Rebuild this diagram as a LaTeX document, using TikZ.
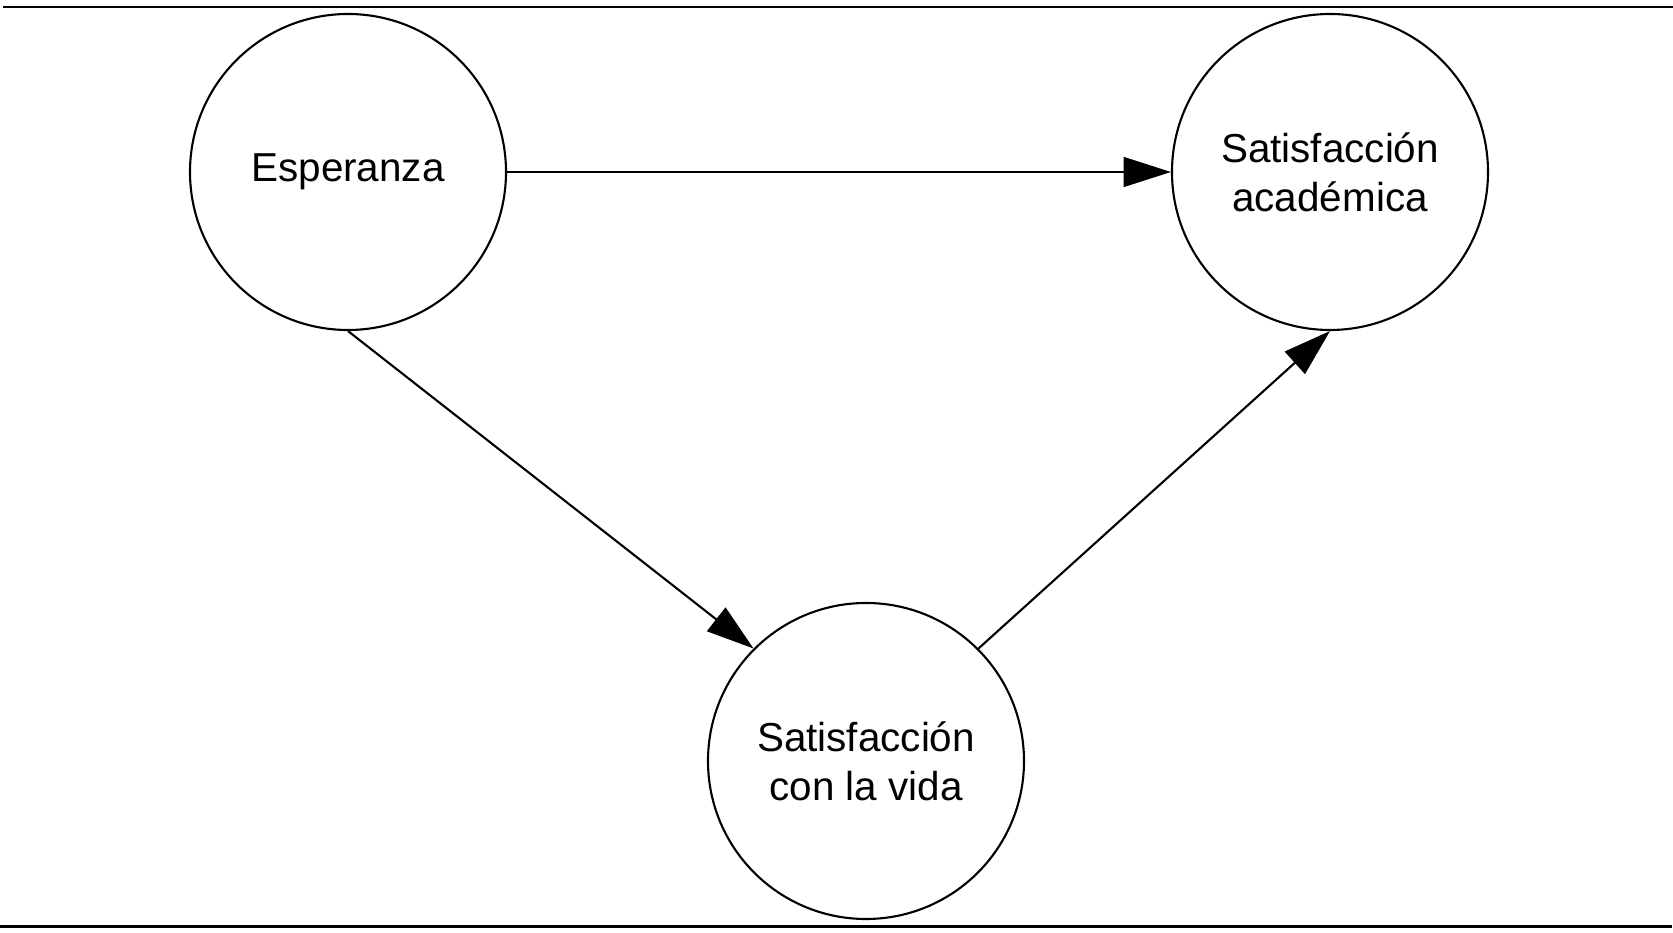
\documentclass[tikz,border=0pt]{standalone}
\usepackage{fontspec}
\setmainfont{Liberation Sans}
\usetikzlibrary{arrows.meta}

\begin{document}
\begin{tikzpicture}[>={Triangle[length=13.5pt,width=8.5pt]}, line width=0.6pt,
    var/.style={circle, draw, minimum size=3.16cm, inner sep=0pt, align=center,
      font=\fontsize{11.5}{13.9}\selectfont}]
  \useasboundingbox (0,0) rectangle (16.73,-9.33);

  % líneas de la tabla
  \draw[line width=0.5pt] (0.03,-0.07) -- (16.73,-0.07);
  \draw[line width=0.9pt] (0,-9.265) -- (16.72,-9.265);

  % variables
  \node[var] (esp) at (3.48,-1.72) {Esperanza};
  \node[var] (acad) at (13.30,-1.72) {Satisfacción\\académica};
  \node[var] (vida) at (8.66,-7.61) {Satisfacción\\con la vida};

  % relaciones
  \draw[->] (esp.east) -- (acad.west);
  \draw[->] (esp.south) -- (vida.north west);
  \draw[->] (vida.north east) -- (acad.south);
\end{tikzpicture}
\end{document}
